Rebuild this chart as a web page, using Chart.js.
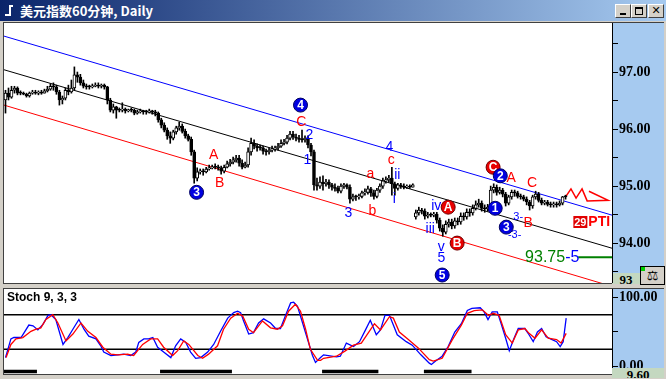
<!DOCTYPE html>
<html><head><meta charset="utf-8">
<script src="https://cdn.jsdelivr.net/npm/chart.js@4"></script>
<style>
html,body{margin:0;padding:0;width:666px;height:379px;overflow:hidden;background:#d4d0c8;}
.a{position:absolute;}
#title{left:0;top:0;width:666px;height:21px;background:linear-gradient(to right,#0a246a,#a6caf0);}
#ttext{left:20px;top:2px;color:#fff;font:bold 13px "Noto Sans CJK SC",sans-serif;line-height:17px;white-space:nowrap;}
.btn{top:4px;width:14px;height:12px;background:#d4d0c8;border-top:1px solid #fff;border-left:1px solid #fff;border-right:1px solid #404040;border-bottom:1px solid #404040;font:bold 11px "DejaVu Sans",sans-serif;line-height:12px;text-align:center;color:#000;}
.box{background:#c4d8c0;font:bold 13px "Liberation Serif",serif;text-align:center;overflow:hidden;color:#000;}
canvas{position:absolute;}
</style></head><body>
<div id="title" class="a"></div>
<div class="a" style="left:9px;top:5px;width:2px;height:11px;background:#fff"></div>
<div class="a" style="left:5px;top:14px;width:5px;height:2px;background:#fff"></div>
<div class="a" style="left:11px;top:5px;width:2px;height:2px;background:#fff"></div>
<div id="ttext" class="a">美元指数60分钟, Daily</div>
<div class="a btn" style="left:615px;"><div style="position:absolute;left:4px;top:8px;width:6px;height:2px;background:#000"></div></div>
<div class="a btn" style="left:631px;"><div style="position:absolute;left:3px;top:2px;width:6px;height:5px;border:1px solid #000;border-top-width:2px"></div></div>
<div class="a btn" style="left:648px;">✕</div>

<div class="a" style="left:3px;top:22px;width:661px;height:262px;background:#404040"></div>
<div class="a" style="left:4px;top:23px;width:608px;height:260px;background:#fff"></div>
<div class="a" style="left:612px;top:23px;width:52px;height:250px;background:#a6caf0"></div>
<div class="a box" style="left:612px;top:273px;width:28px;height:11px;line-height:14px;">93</div>
<div class="a" style="left:640px;top:266px;width:23px;height:17px;background:#d4d0c8;border:1px solid #000;font:13px 'DejaVu Sans';line-height:17px;text-align:center;">⚖</div>
<div class="a" style="left:641px;top:267px;width:4px;height:4px;background:#00d000"></div>

<div class="a" style="left:3px;top:288px;width:661px;height:87px;background:#404040"></div>
<div class="a" style="left:4px;top:289px;width:608px;height:85px;background:#fff"></div>
<div class="a" style="left:612px;top:289px;width:52px;height:79px;background:#a6caf0"></div>

<canvas id="price" width="660" height="260" style="left:4px;top:23px;width:660px;height:260px"></canvas>
<canvas id="stoch" width="660" height="85" style="left:4px;top:289px;width:660px;height:85px"></canvas>
<div class="a box" style="left:612px;top:368px;width:52px;height:10px;line-height:14px;z-index:5">9.60</div>
<div class="a" style="left:7px;top:290px;font:bold 12px 'Liberation Sans',Arial,sans-serif;color:#000;z-index:5">Stoch 9, 3, 3</div>

<script>
// ---------- DATA ----------
const open = [96.51,96.63,96.56,96.68,96.72,96.63,96.63,96.61,96.58,96.63,
96.65,96.63,96.65,96.63,96.67,96.70,96.75,96.74,96.65,96.51,
96.54,96.68,96.65,96.72,96.95,96.91,96.81,96.75,96.74,96.74,
96.75,96.77,96.75,96.77,96.74,96.51,96.33,96.39,96.33,96.33,
96.35,96.32,96.33,96.33,96.28,96.30,96.32,96.30,96.30,96.32,
96.30,96.28,96.16,96.07,95.98,95.88,95.84,95.95,96.02,96.05,
95.96,95.88,95.82,95.60,95.14,95.25,95.26,95.25,95.30,95.32,
95.33,95.33,95.32,95.26,95.33,95.39,95.42,95.46,95.49,95.40,
95.33,95.37,95.60,95.75,95.70,95.67,95.67,95.61,95.60,95.63,
95.65,95.67,95.70,95.75,95.77,95.84,95.91,95.86,95.84,95.82,
95.81,95.84,95.72,95.60,95.02,95.00,95.07,95.04,95.07,95.02,
94.98,94.96,94.91,95.00,95.02,94.98,94.77,94.81,94.81,94.82,
94.88,94.89,94.95,94.88,94.82,94.93,95.00,95.09,95.11,95.14,
95.04,94.96,95.02,95.00,94.98,95.00,94.98,94.46,94.53,94.58,
94.56,94.47,94.49,94.49,94.51,94.40,94.26,94.19,94.33,94.37,
94.30,94.39,94.37,94.47,94.46,94.54,94.53,94.61,94.67,94.70,
94.61,94.60,94.63,94.93,94.98,94.89,94.93,94.86,94.70,94.81,
94.89,94.88,94.82,94.81,94.77,94.72,94.65,94.81,94.86,94.75,
94.70,94.72,94.68,94.67,94.68,94.67,94.70,94.81];
const high = [96.68,96.72,96.75,96.75,96.74,96.67,96.65,96.63,96.65,96.68,
96.68,96.67,96.68,96.70,96.75,96.79,96.81,96.77,96.68,96.58,
96.72,96.77,96.86,97.09,97.00,96.96,96.86,96.79,96.77,96.79,
96.81,96.81,96.79,96.79,96.75,96.54,96.44,96.40,96.37,96.46,
96.37,96.35,96.37,96.35,96.33,96.35,96.33,96.33,96.35,96.33,
96.33,96.30,96.19,96.11,96.02,95.95,95.98,96.05,96.12,96.09,
96.00,95.91,95.86,95.63,95.32,95.30,95.30,95.33,95.37,95.37,
95.39,95.37,95.35,95.37,95.44,95.47,95.51,95.54,95.54,95.46,
95.42,95.67,95.84,95.81,95.74,95.72,95.70,95.65,95.67,95.70,
95.70,95.75,95.81,95.82,95.89,95.96,95.96,95.91,95.89,95.98,
95.88,95.88,95.75,95.63,95.14,95.16,95.18,95.12,95.11,95.05,
95.04,95.00,95.04,95.05,95.04,95.02,94.86,94.84,94.86,94.91,
94.95,95.00,94.98,94.93,94.96,95.04,95.14,95.16,95.19,95.33,
95.07,95.05,95.05,95.04,95.02,95.02,95.04,94.58,94.63,94.61,
94.60,94.54,94.53,94.54,94.54,94.44,94.32,94.39,94.42,94.42,
94.44,94.44,94.53,94.53,94.60,94.60,94.67,94.74,94.77,94.74,
94.67,94.68,95.00,95.04,95.02,94.98,94.96,94.89,94.84,94.93,
94.93,94.91,94.86,94.84,94.81,94.75,94.84,94.91,94.89,94.79,
94.75,94.75,94.72,94.72,94.72,94.74,94.82,94.84];
const low = [96.28,96.51,96.54,96.63,96.60,96.60,96.60,96.56,96.56,96.61,
96.61,96.60,96.61,96.63,96.65,96.68,96.68,96.61,96.42,96.44,
96.51,96.60,96.63,96.68,96.82,96.77,96.72,96.70,96.70,96.72,
96.74,96.72,96.72,96.70,96.44,96.30,96.28,96.19,96.30,96.30,
96.28,96.30,96.30,96.25,96.26,96.28,96.26,96.26,96.28,96.26,
96.23,96.12,96.02,95.95,95.82,95.75,95.81,95.91,95.98,95.93,
95.84,95.79,95.54,95.05,95.09,95.21,95.19,95.23,95.28,95.30,
95.30,95.28,95.21,95.23,95.32,95.35,95.39,95.42,95.35,95.30,
95.32,95.33,95.54,95.65,95.61,95.63,95.56,95.54,95.56,95.60,
95.61,95.63,95.68,95.72,95.74,95.81,95.82,95.79,95.77,95.77,
95.77,95.67,95.53,94.93,94.93,94.96,94.93,95.00,94.96,94.93,
94.91,94.88,94.88,94.96,94.95,94.70,94.74,94.75,94.77,94.79,
94.84,94.86,94.82,94.77,94.79,94.89,94.96,95.05,95.07,94.84,
94.84,94.93,94.96,94.95,94.96,94.96,94.98,94.42,94.49,94.51,
94.42,94.44,94.46,94.46,94.35,94.21,94.12,94.16,94.28,94.25,
94.26,94.32,94.33,94.40,94.42,94.47,94.49,94.58,94.63,94.56,
94.54,94.56,94.60,94.88,94.84,94.86,94.81,94.65,94.67,94.77,
94.82,94.79,94.77,94.74,94.67,94.58,94.61,94.77,94.72,94.67,
94.67,94.65,94.63,94.63,94.63,94.65,94.67,94.77];
const close = [96.63,96.56,96.68,96.72,96.63,96.63,96.61,96.58,96.63,96.65,
96.63,96.65,96.63,96.67,96.70,96.75,96.74,96.65,96.51,96.54,
96.68,96.65,96.72,96.95,96.91,96.81,96.75,96.74,96.74,96.75,
96.77,96.75,96.77,96.74,96.51,96.33,96.39,96.33,96.33,96.35,
96.32,96.33,96.33,96.28,96.30,96.32,96.30,96.30,96.32,96.30,
96.28,96.16,96.07,95.98,95.88,95.84,95.95,96.02,96.05,95.96,
95.88,95.82,95.60,95.14,95.25,95.26,95.25,95.30,95.32,95.33,
95.33,95.32,95.26,95.33,95.39,95.42,95.46,95.49,95.40,95.33,
95.37,95.60,95.75,95.70,95.67,95.67,95.61,95.60,95.63,95.65,
95.67,95.70,95.75,95.77,95.84,95.91,95.86,95.84,95.82,95.81,
95.84,95.72,95.60,95.02,95.00,95.07,95.04,95.07,95.02,94.98,
94.96,94.91,95.00,95.02,94.98,94.77,94.81,94.81,94.82,94.88,
94.89,94.95,94.88,94.82,94.93,95.00,95.09,95.11,95.14,95.04,
94.96,95.02,95.00,94.98,95.00,94.98,95.02,94.53,94.58,94.56,
94.47,94.49,94.49,94.51,94.40,94.26,94.19,94.33,94.37,94.30,
94.39,94.37,94.47,94.46,94.54,94.53,94.61,94.67,94.70,94.61,
94.60,94.63,94.93,94.98,94.89,94.93,94.86,94.70,94.81,94.89,
94.88,94.82,94.81,94.77,94.72,94.65,94.81,94.86,94.75,94.70,
94.72,94.68,94.67,94.68,94.67,94.70,94.81,94.81];

// channel lines: [barIndex, price] end points
const channelUpper = [[-0.5,97.63],[202.5,94.49]];
const channelMid   = [[-0.5,97.04],[202.5,93.91]];
const channelLower = [[-0.5,96.42],[202.5,93.24]];
const projection   = [[187,94.81],[188.8,94.95],[190.5,94.79],[192.5,94.95],[194.2,94.74],[201.2,94.75],[194.8,94.91]];
const targetLevel  = 93.75;
const targetFrom   = 191.2;

const priceTicks = [93.5,94,94.5,95,95.5,96,96.5,97,97.5];

// stochastic %K and %D: [barIndex, value]
const stochK = [[0,13],[1.8,40],[2.8,42],[5.2,42],[7.8,60],[9.2,59],[10.8,53],[12.5,61],[14.2,74],[15.2,75],
[16.8,68],[19.2,32],[20.8,42],[22.5,54],[24.5,68],[26.2,54],[27.8,44],[30.2,40],[31.8,30],[32.8,21],
[35.2,16],[37.5,17],[39.5,18],[41.8,16],[43.5,21],[44.5,35],[46.2,40],[47.8,40],[49.2,42],[50.8,28],
[52.8,21],[55.2,13],[56.8,30],[58.5,40],[60.2,35],[61.8,21],[63.5,12],[65.2,13],[67.5,21],[69.5,32],
[71.8,51],[74.2,70],[76.2,78],[77.5,80],[78.5,78],[79.5,66],[81.2,47],[82.8,49],[84.5,63],[86.2,69],
[88.5,63],[90.2,55],[91.8,55],[93.5,74],[95.2,92],[96.2,93],[97.5,87],[99.2,63],[100.8,40],[102.5,16],
[103.5,6],[105.2,13],[106.2,17],[110.5,14],[111.8,15],[113.8,34],[116.2,29],[118.2,36],[120.2,53],[121.8,67],
[123.8,46],[125.2,53],[126.7,74],[128.2,74],[129.5,60],[130.8,46],[133.8,36],[135.8,31],[138.7,17],[141.5,5],
[142.2,3],[143.6,8],[145.8,15],[147.8,29],[150,50],[152.2,62],[154.2,81],[155.7,84],[158.5,85],[159.8,79],
[161.1,68],[162.5,79],[164.2,79],[165.5,62],[167,41],[168.2,23],[169.8,41],[171.2,55],[173.4,55],[174.8,46],
[176.2,36],[177.6,50],[179,55],[180.5,43],[182.5,39],[184,36],[185.2,29],[186.2,36],[187.2,70]];
const stochD = [[0.2,13],[1.8,32],[3.5,40],[5.8,42],[8.5,51],[10.2,54],[11.8,56],[13.5,68],[15.8,75],[17.5,63],
[20.2,37],[22.5,47],[25.2,63],[27.5,51],[30.2,42],[32.5,28],[35.2,18],[37.5,17],[40.8,18],[42.8,16],
[45.8,32],[48.5,40],[50.8,40],[52.8,28],[55.8,16],[57.5,23],[59.5,37],[61.2,32],[64.2,16],[65.8,12],
[67.8,18],[70.8,30],[72.8,54],[75.2,70],[77.5,77],[79.2,73],[81.2,54],[82.8,49],[85.8,66],[88.5,56],
[90.8,54],[92.5,59],[94.5,80],[96.8,90],[98.5,80],[100.2,54],[101.8,25],[104.2,9],[105.2,9],[106.2,12],
[110.5,15],[113.2,22],[116.2,31],[118.8,34],[121.8,53],[123.2,62],[125.2,53],[128.2,72],[129.5,70],[131.5,50],
[134.5,39],[137.8,27],[141.5,10],[142.8,8],[145.8,12],[149.2,39],[152.2,60],[154.2,77],[156.5,81],[159.2,82],
[161.3,74],[162.8,77],[164.8,74],[167,46],[169.2,34],[171.2,53],[173.4,55],[174.8,48],[176.8,41],[179,53],
[181.2,41],[184,39],[185.5,34],[187.2,48]];
const stochLevels = [25,75];
const stochTicks = [0,50,100];
const sessions = [[-0.5,10.5],[51.6,75.6],[105.7,124.5],[139.7,155.6]];

// wave labels: [text, barIndex, price, colour key, kind]
const waveLabels = [
 ['C',98.8,96.12,'r','t'],['2',101.5,95.89,'b','t'],['1',100.8,95.46,'b','t'],
 ['A',69.5,95.54,'r','t'],['B',71.5,95.05,'r','t'],
 ['4',128.2,95.68,'b','t'],['a',121.8,95.21,'r','t'],['c',128.8,95.46,'r','t'],
 ['ii',130.8,95.19,'b','t'],['i',129.8,94.77,'b','t'],['3',114.5,94.53,'b','t'],['b',122.5,94.56,'r','t'],
 ['iv',143.8,94.65,'b','t'],['iii',141.8,94.25,'b','t'],['v',145.5,93.93,'b','t'],['5',145.5,93.74,'b','t'],
 ['A',168.8,95.14,'r','t'],['C',175.8,95.05,'r','t'],['B',174.5,94.35,'r','t'],
 ['3-',171.2,94.46,'b','s'],['-3-',170.0,94.14,'b','s'],
 ['4',98.5,96.42,'b','o'],['3',63.8,94.89,'b','o'],['A',147.8,94.63,'r','o'],['B',150.8,94.00,'r','o'],
 ['5',145.8,93.44,'b','o'],['C',162.8,95.33,'r','o'],['2',165.2,95.18,'b','o'],['1',163.5,94.61,'b','o'],
 ['3',167.2,94.28,'b','o']
];

// ---------- CHARTS ----------
const COL = {r:'#ff0000', b:'#0000ff', g:'#008000'};
const idx = close.map((_, i) => i);
const pts = arr => arr.map(p => ({x:p[0], y:p[1]}));

const annotPlugin = {
  id:'annot',
  afterDatasetsDraw(chart){
    const {ctx, chartArea:a, scales:{x, y}} = chart;
    ctx.save();
    ctx.beginPath(); ctx.rect(a.left, a.top, a.width, a.height); ctx.clip();
    ctx.textAlign = 'center'; ctx.textBaseline = 'middle';
    for (const [t, xi, p, c, k] of waveLabels) {
      const px = x.getPixelForValue(xi), py = y.getPixelForValue(p);
      if (k === 'o') {
        ctx.beginPath(); ctx.arc(px, py, 7, 0, Math.PI*2);
        ctx.fillStyle = c === 'r' ? '#e80000' : '#0000e0'; ctx.fill();
        ctx.lineWidth = 1; ctx.strokeStyle = c === 'r' ? '#700000' : '#000060'; ctx.stroke();
        ctx.fillStyle = '#fff'; ctx.font = 'bold 12px "Liberation Sans", Arial, sans-serif';
        ctx.fillText(t, px, py + 0.5);
      } else {
        ctx.fillStyle = COL[c];
        ctx.font = (k === 's' ? '11px' : '14px') + ' "Liberation Sans", Arial, sans-serif';
        ctx.fillText(t, px, py);
      }
    }
    // target & PTI text
    const ty = y.getPixelForValue(targetLevel);
    const tx = x.getPixelForValue(targetFrom);
    ctx.font = '16px "Liberation Sans", Arial, sans-serif';
    ctx.textAlign = 'right'; ctx.fillStyle = COL.g; ctx.fillText('93.75', tx - 13, ty);
    ctx.textAlign = 'left'; ctx.fillStyle = COL.b; ctx.fillText('-5', tx - 13, ty);
    const bx = x.getPixelForValue(189.6), by = y.getPixelForValue(94.37);
    ctx.fillStyle = '#e00000'; ctx.fillRect(bx, by - 6, 14, 12);
    ctx.fillStyle = '#fff'; ctx.font = 'bold 11px "Liberation Sans", Arial, sans-serif';
    ctx.textAlign = 'center'; ctx.fillText('29', bx + 7, by + 0.5);
    ctx.fillStyle = '#ff0000'; ctx.font = 'bold 14px "Liberation Sans", Arial, sans-serif';
    ctx.textAlign = 'left'; ctx.fillText('PTI', bx + 15, by + 0.5);
    ctx.restore();
  }
};

const lineDs = (data, color, w, order) => ({type:'line', data, borderColor:color, borderWidth:w,
  pointRadius:0, tension:0, fill:false, order});

new Chart(document.getElementById('price'), {
  type:'bar',
  data:{datasets:[
    {type:'bar', data: idx.map(i => ({x:i, y:[open[i], close[i]]})),
     backgroundColor: c => close[c.dataIndex] > open[c.dataIndex] ? '#ffffff' : '#000000',
     borderColor:'#000', borderWidth:1, borderSkipped:false, barThickness:3, minBarLength:1,
     grouped:false, order:0},
    {type:'bar', data: idx.map(i => ({x:i, y:[low[i], high[i]]})),
     backgroundColor:'#000', borderWidth:0, barThickness:1, grouped:false, order:1},
    lineDs(pts(channelUpper), '#0000ff', 1, 3),
    lineDs(pts(channelMid), '#000000', 1, 3),
    lineDs(pts(channelLower), '#ff0000', 1, 3),
    lineDs(pts(projection), '#ff0000', 1.5, 2),
    lineDs([{x:targetFrom, y:targetLevel},{x:202.5, y:targetLevel}], '#008000', 2, 2)
  ]},
  options:{
    animation:false, responsive:false, maintainAspectRatio:false,
    layout:{padding:0},
    plugins:{legend:{display:false}, tooltip:{enabled:false}},
    scales:{
      x:{type:'linear', min:-0.5, max:202.5, offset:false, display:false},
      y:{position:'right', min:93.30, max:97.86,
         afterBuildTicks: s => { s.ticks = priceTicks.map(v => ({value:v})); },
         afterFit: s => { s.width = 52; s.paddingTop = 0; s.paddingBottom = 0; },
         grid:{drawOnChartArea:false, drawTicks:true, tickLength:6, tickColor:'#000', tickWidth:1},
         border:{display:true, color:'#000', width:1},
         ticks:{color:'#000', padding:1, font:{family:'Liberation Serif', size:14, weight:'bold'},
                callback: v => Number.isInteger(v) ? v.toFixed(2) : ''}}
    }
  },
  plugins:[annotPlugin]
});

const sessData = [];
sessions.forEach(([a, b], k) => {
  if (k) sessData.push({x:(a + sessions[k-1][1]) / 2, y:null});
  sessData.push({x:a, y:-7.2}, {x:b, y:-7.2});
});

new Chart(document.getElementById('stoch'), {
  type:'line',
  data:{datasets:[
    lineDs(pts(stochD), '#ff0000', 1.3, 1),
    lineDs(pts(stochK), '#0000ff', 1.3, 2),
    ...stochLevels.map(v => lineDs([{x:-0.5, y:v},{x:202.5, y:v}], '#000', 1.6, 3)),
    Object.assign(lineDs(sessData, '#000', 3.5, 3), {spanGaps:false, borderCapStyle:'butt'})
  ]},
  options:{
    animation:false, responsive:false, maintainAspectRatio:false,
    layout:{padding:0},
    plugins:{legend:{display:false}, tooltip:{enabled:false}},
    scales:{
      x:{type:'linear', min:-0.5, max:202.5, offset:false, display:false},
      y:{position:'right', min:-10.7, max:112.1,
         afterBuildTicks: s => { s.ticks = stochTicks.map(v => ({value:v})); },
         afterFit: s => { s.width = 52; s.paddingTop = 0; s.paddingBottom = 0; },
         grid:{drawOnChartArea:false, drawTicks:true, tickLength:6, tickColor:'#000'},
         border:{display:true, color:'#000', width:1},
         ticks:{color:'#000', padding:1, font:{family:'Liberation Serif', size:14, weight:'bold'},
                callback: v => v === 50 ? '' : v.toFixed(2)}}
    }
  }
});
</script>
</body></html>
